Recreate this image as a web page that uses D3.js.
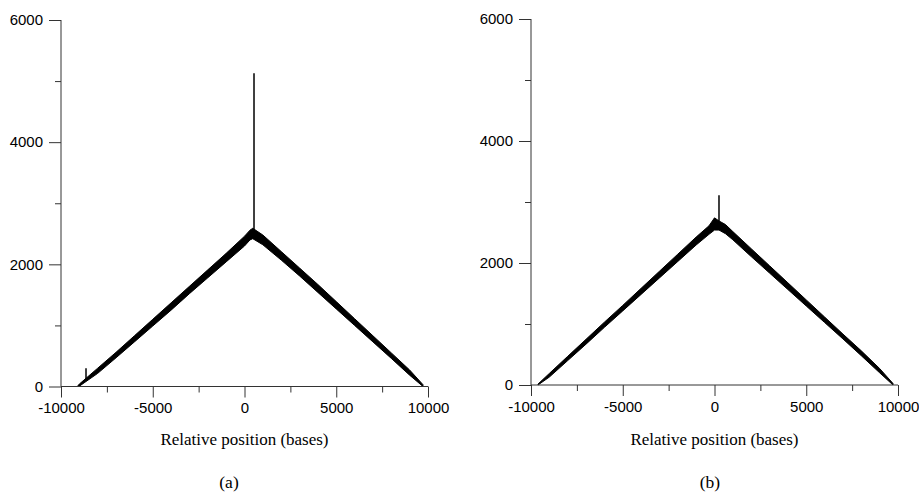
<!DOCTYPE html>
<html>
<head>
<meta charset="utf-8">
<script src="https://cdn.jsdelivr.net/npm/d3@7"></script>
<style>
  body { margin: 0; background: #fff; }
  svg { display: block; }
</style>
</head>
<body>
<svg id="chart" width="919" height="493"></svg>
<script>
// ---------- data ----------
const xTicks = [-10000, -5000, 0, 5000, 10000];
const xMinorTicks = [-7500, -2500, 2500, 7500];
const yTicks = [0, 2000, 4000, 6000];
const yMinorTicks = [1000, 3000, 5000];
const xLabel = "Relative position (bases)";
const captions = ["(a)", "(b)"];

// panel (a): band envelope [position, lower, upper]
const bandA = [
  [-9074, 0, 15], [-9000, 5, 40], [-8000, 215, 300], [-7000, 470, 560],
  [-6000, 730, 830], [-5000, 990, 1100], [-4000, 1250, 1370], [-3000, 1520, 1640],
  [-2000, 1780, 1910], [-1000, 2040, 2180], [0, 2300, 2460], [300, 2400, 2560],
  [450, 2420, 2590], [1000, 2320, 2480], [2000, 2070, 2210], [3000, 1810, 1940],
  [4000, 1540, 1670], [5000, 1270, 1390], [6000, 1000, 1110], [7000, 730, 830],
  [8000, 460, 550], [9000, 185, 270], [9727, 0, 30]
];
// panel (a): spikes [position, base, top]
const spikesA = [[518, 2550, 5130], [-8637, 100, 300]];

// panel (b): band envelope [position, lower, upper]
const bandB = [
  [-9618, 0, 15], [-9000, 130, 190], [-8000, 400, 470], [-7000, 670, 750],
  [-6000, 945, 1030], [-5000, 1215, 1305], [-4000, 1485, 1585], [-3000, 1755, 1865],
  [-2000, 2025, 2145], [-1000, 2295, 2425], [-300, 2470, 2610], [0, 2540, 2740],
  [245, 2540, 2690], [600, 2480, 2630], [1000, 2380, 2515], [2000, 2105, 2235],
  [3000, 1835, 1955], [4000, 1565, 1675], [5000, 1295, 1395], [6000, 1025, 1115],
  [7000, 755, 835], [8000, 480, 560], [9000, 200, 270], [9728, 0, 25]
];
const spikesB = [[245, 2650, 3110]];

// ---------- layout ----------
const panels = [
  { band: bandA, spikes: spikesA, x0: 61, x1: 428, yTop: 20, yBot: 386.5, cap: captions[0], capX: 229 },
  { band: bandB, spikes: spikesB, x0: 531, x1: 898, yTop: 19, yBot: 385, cap: captions[1], capX: 710 }
];

const svg = d3.select("#chart");
const axisColor = "#333";
const fmt = d => String(d);

panels.forEach(p => {
  const g = svg.append("g");
  const x = d3.scaleLinear().domain([-10000, 10000]).range([p.x0, p.x1]);
  const y = d3.scaleLinear().domain([0, 6000]).range([p.yBot, p.yTop]);

  // band
  const area = d3.area()
    .x(d => x(d[0]))
    .y0(d => y(d[1]))
    .y1(d => y(d[2]));
  g.append("path").datum(p.band).attr("d", area)
    .attr("fill", "#000").attr("stroke", "#000").attr("stroke-width", 1)
    .attr("stroke-linejoin", "round");

  // spikes
  g.selectAll("line.spike").data(p.spikes).join("line")
    .attr("class", "spike")
    .attr("x1", d => x(d[0])).attr("x2", d => x(d[0]))
    .attr("y1", d => y(d[1])).attr("y2", d => y(d[2]))
    .attr("stroke", "#000").attr("stroke-width", 1.5);

  // y axis
  const yAxis = g.append("g").attr("transform", `translate(${p.x0},0)`)
    .call(d3.axisLeft(y).tickValues(yTicks).tickSize(12).tickPadding(6).tickFormat(fmt));
  yAxis.select(".domain").remove();
  yAxis.selectAll(".tick line").attr("stroke", axisColor);
  yAxis.selectAll("text").attr("font-family", "'Liberation Sans', Arial, sans-serif")
    .attr("font-size", 15).attr("fill", "#000");
  g.append("g").attr("transform", `translate(${p.x0},0)`)
    .call(d3.axisLeft(y).tickValues(yMinorTicks).tickSize(6).tickFormat(""))
    .call(s => s.select(".domain").remove())
    .selectAll(".tick line").attr("stroke", axisColor);
  g.append("line").attr("x1", p.x0).attr("x2", p.x0)
    .attr("y1", y(6000)).attr("y2", y(0))
    .attr("stroke", axisColor);

  // x axis
  const xAxis = g.append("g").attr("transform", `translate(0,${p.yBot})`)
    .call(d3.axisBottom(x).tickValues(xTicks).tickSize(11).tickPadding(5).tickFormat(fmt));
  xAxis.select(".domain").remove();
  xAxis.selectAll(".tick line").attr("stroke", axisColor);
  xAxis.selectAll("text").attr("font-family", "'Liberation Sans', Arial, sans-serif")
    .attr("font-size", 15).attr("fill", "#000");
  g.append("g").attr("transform", `translate(0,${p.yBot})`)
    .call(d3.axisBottom(x).tickValues(xMinorTicks).tickSize(6).tickFormat(""))
    .call(s => s.select(".domain").remove())
    .selectAll(".tick line").attr("stroke", axisColor);
  g.append("line").attr("x1", p.x0).attr("x2", p.x1)
    .attr("y1", p.yBot).attr("y2", p.yBot)
    .attr("stroke", axisColor);

  // axis title
  g.append("text").attr("x", x(0)).attr("y", 445)
    .attr("text-anchor", "middle")
    .attr("font-family", "'Liberation Serif', 'Times New Roman', serif")
    .attr("font-size", 17).attr("fill", "#000")
    .text(xLabel);

  // caption
  g.append("text").attr("x", p.capX).attr("y", 488)
    .attr("text-anchor", "middle")
    .attr("font-family", "'Liberation Serif', serif")
    .attr("font-size", 17.5).attr("fill", "#000")
    .text(p.cap);
});
</script>
</body>
</html>
